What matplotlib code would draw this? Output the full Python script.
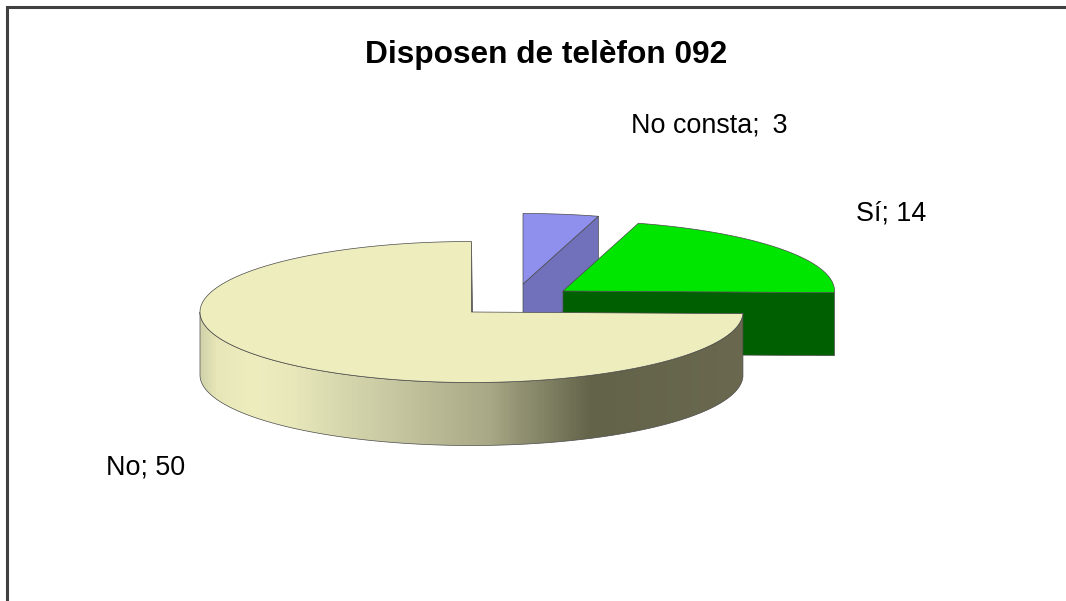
import numpy as np
import matplotlib
matplotlib.use("Agg")
import matplotlib.pyplot as plt
from matplotlib.colors import LinearSegmentedColormap
from matplotlib.patches import Polygon

plt.rcParams['font.family'] = ['Liberation Sans', 'DejaVu Sans']

# Dades
title = "Disposen de telèfon 092"
labels = ["No consta", "Sí", "No"]
values = [3, 14, 50]

# Geometria del pastís (píxels de la imatge)
centers = [(523, 284), (563, 291), (471.5, 312)]
RX = 271.5
RY = 70.5
DEPTH = 63
label_pos = [(631, 125), (856, 213), (106, 468)]

top_colors = ["#8F8FEE", "#00E600", "#EDEDBE"]
side_colors = ["#7070BB", "#005F00", "#66654E"]
EDGE = "#4A4A4A"

# Degradat del lateral de la porció gran (x en píxels, color)
rim_stops = [(199, "#D2D2AB"), (216, "#E6E6B8"), (250, "#EDEDBE"), (290, "#E8E8BB"),
             (390, "#C8C8A2"), (490, "#A8A886"), (525, "#8F8F70"), (592, "#63634A"),
             (744, "#6A694F")]


def rim(center, a):
    """Punts de la vora per a angles en graus, en sentit horari des de dalt."""
    t = np.radians(a)
    return np.column_stack([center[0] + RX * np.sin(t), center[1] - RY * np.cos(t)])


fig = plt.figure(figsize=(10.66, 6.01), dpi=100, facecolor="white")
ax = fig.add_axes([0, 0, 1, 1])
ax.set_xlim(0, 1066)
ax.set_ylim(601, 0)
ax.axis("off")

# Marc del gràfic
ax.plot([7, 7, 1066], [601, 7, 7], color="#404040", lw=2.2, solid_joinstyle="miter", zorder=1)

total = sum(values)
bounds = np.cumsum([0] + values) / total * 360

for i in range(len(values)):
    c = np.array(centers[i])
    a0, a1 = bounds[i], bounds[i + 1]
    arc = rim(c, np.linspace(a0, a1, 200))
    down = np.array([0, DEPTH])
    z = 2 + i * 2

    # cara radial del final de la porció
    face = np.array([c, arc[-1], arc[-1] + down, c + down])
    ax.add_patch(Polygon(face, closed=True, fc=side_colors[i], ec=EDGE, lw=0.5, zorder=z))

    # lateral corbat visible (només la porció gran)
    if i == 2:
        front = rim(c, np.linspace(max(a0, 90), min(a1, 270), 300))
        body = np.vstack([front, (front + down)[::-1]])
        xs = (np.array([s[0] for s in rim_stops]) - 199) / (744 - 199)
        cmap = LinearSegmentedColormap.from_list("rim", list(zip(xs, [s[1] for s in rim_stops])))
        patch = Polygon(body, closed=True, fc="none", ec=EDGE, lw=0.5, zorder=z + 0.2)
        ax.add_patch(patch)
        im = ax.imshow(np.linspace(0, 1, 545)[None, :], cmap=cmap, aspect="auto",
                       extent=[199, 744, 460, 300], zorder=z + 0.1)
        im.set_clip_path(patch)
        ax.set_xlim(0, 1066)
        ax.set_ylim(601, 0)

    # tapa superior
    ax.add_patch(Polygon(np.vstack([c, arc]), closed=True, fc=top_colors[i], ec=EDGE, lw=0.5,
                         joinstyle="round", zorder=z + 0.5))

    sep = "; \u2009" if i == 0 else "; "
    ax.text(label_pos[i][0], label_pos[i][1], f"{labels[i]}{sep}{values[i]}", fontsize=19.4,
            ha="left", va="center", color="black", zorder=10)

ax.text(546.5, 55, title, fontsize=22.8, fontweight="bold", ha="center", va="center", zorder=10)

fig.savefig("out.png", dpi=100)
